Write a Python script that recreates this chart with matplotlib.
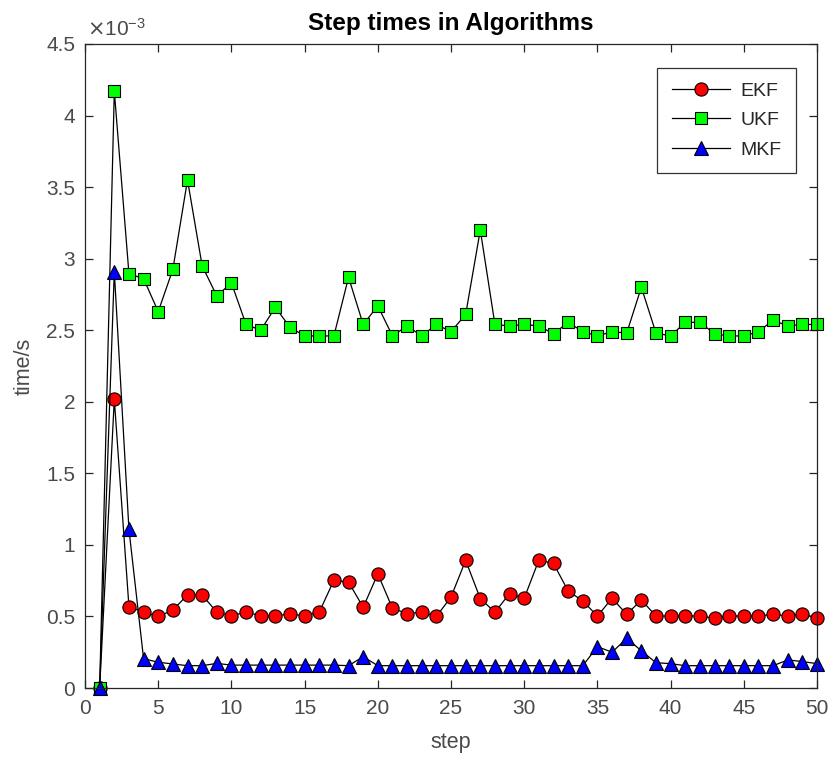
"""Per-step run time of the three Kalman filter variants."""

import matplotlib
matplotlib.use("Agg")
import matplotlib.pyplot as plt
import numpy as np
from matplotlib.ticker import FuncFormatter

steps = np.arange(1, 51)

# seconds per step
ekf = np.array([
    0.0, 2.017, 0.568, 0.530, 0.500, 0.545, 0.650, 0.650, 0.530, 0.505,
    0.530, 0.505, 0.505, 0.517, 0.505, 0.530, 0.753, 0.740, 0.564, 0.797,
    0.557, 0.520, 0.530, 0.500, 0.636, 0.892, 0.624, 0.530, 0.660, 0.627,
    0.894, 0.870, 0.678, 0.608, 0.503, 0.627, 0.515, 0.615, 0.503, 0.503,
    0.503, 0.503, 0.487, 0.503, 0.503, 0.503, 0.515, 0.503, 0.520, 0.487,
]) * 1e-3

ukf = np.array([
    0.0, 4.17, 2.895, 2.86, 2.63, 2.925, 3.55, 2.95, 2.74, 2.83,
    2.54, 2.50, 2.66, 2.52, 2.46, 2.46, 2.46, 2.87, 2.54, 2.67,
    2.46, 2.53, 2.46, 2.54, 2.49, 2.61, 3.20, 2.54, 2.53, 2.54,
    2.53, 2.475, 2.555, 2.49, 2.46, 2.49, 2.48, 2.80, 2.48, 2.46,
    2.555, 2.555, 2.475, 2.46, 2.46, 2.49, 2.57, 2.53, 2.54, 2.54,
]) * 1e-3

mkf = np.array([
    0.0, 2.91, 1.109, 0.205, 0.180, 0.168, 0.156, 0.156, 0.172, 0.160,
    0.160, 0.160, 0.160, 0.160, 0.160, 0.160, 0.160, 0.156, 0.219, 0.156,
    0.156, 0.156, 0.156, 0.156, 0.156, 0.156, 0.156, 0.156, 0.156, 0.156,
    0.156, 0.156, 0.156, 0.156, 0.289, 0.250, 0.347, 0.260, 0.177, 0.170,
    0.156, 0.156, 0.156, 0.156, 0.156, 0.156, 0.156, 0.196, 0.185, 0.170,
]) * 1e-3

TEXT_GREY = "#4a4a4a"

plt.rcParams.update({
    "font.family": ["Liberation Sans", "DejaVu Sans"],
    "xtick.direction": "in",
    "ytick.direction": "in",
    "xtick.top": True,
    "ytick.right": True,
    "axes.linewidth": 0.9,
    "axes.edgecolor": "#262626",
})

fig = plt.figure(figsize=(8.36, 7.74), dpi=100)
ax = fig.add_axes([0.1017, 0.1111, 0.8756, 0.8321])

line_kw = dict(color="black", linewidth=0.9, markeredgecolor="black",
               markeredgewidth=0.8, clip_on=False)
ax.plot(steps, ekf, marker="o", markersize=9.5, markerfacecolor="#ff0000",
        label="EKF", **line_kw)
ax.plot(steps, ukf, marker="s", markersize=8, markerfacecolor="#00ff00",
        label="UKF", **line_kw)
ax.plot(steps, mkf, marker="^", markersize=9.5, markerfacecolor="#0000ff",
        label="MKF", **line_kw)

ax.set_xlim(0, 50)
ax.set_ylim(0, 4.5e-3)
ax.set_xticks(np.arange(0, 51, 5))
ax.set_yticks(np.arange(0, 4.51e-3, 0.5e-3))

# tick labels in units of 1e-3, exponent shown once above the axis
ax.yaxis.set_major_formatter(FuncFormatter(lambda v, _: f"{v * 1e3:g}"))
ax.text(0.003, 1.006, r"$\times\mathregular{10^{-3}}$", transform=ax.transAxes,
        ha="left", va="bottom", fontsize=15, color=TEXT_GREY)

ax.tick_params(labelsize=15, labelcolor=TEXT_GREY, color="#262626",
               length=6, width=0.9)
ax.tick_params(axis="x", pad=8)
ax.tick_params(axis="y", pad=7)
ax.set_xlabel("step", fontsize=15.5, color=TEXT_GREY, labelpad=10)
ax.set_ylabel("time/s", fontsize=15.5, color=TEXT_GREY, labelpad=8)
ax.set_title("Step times in Algorithms", fontsize=17.5, fontweight="bold",
             pad=10)

leg = ax.legend(loc="upper right", bbox_to_anchor=(0.971, 0.963),
                borderaxespad=0, fontsize=14, fancybox=False,
                edgecolor="black", handlelength=3.0, handletextpad=0.5,
                borderpad=0.75, labelspacing=0.6)
leg.get_frame().set_linewidth(0.9)
for txt in leg.get_texts():
    txt.set_color("#262626")

fig.savefig("out.png", dpi=100)
